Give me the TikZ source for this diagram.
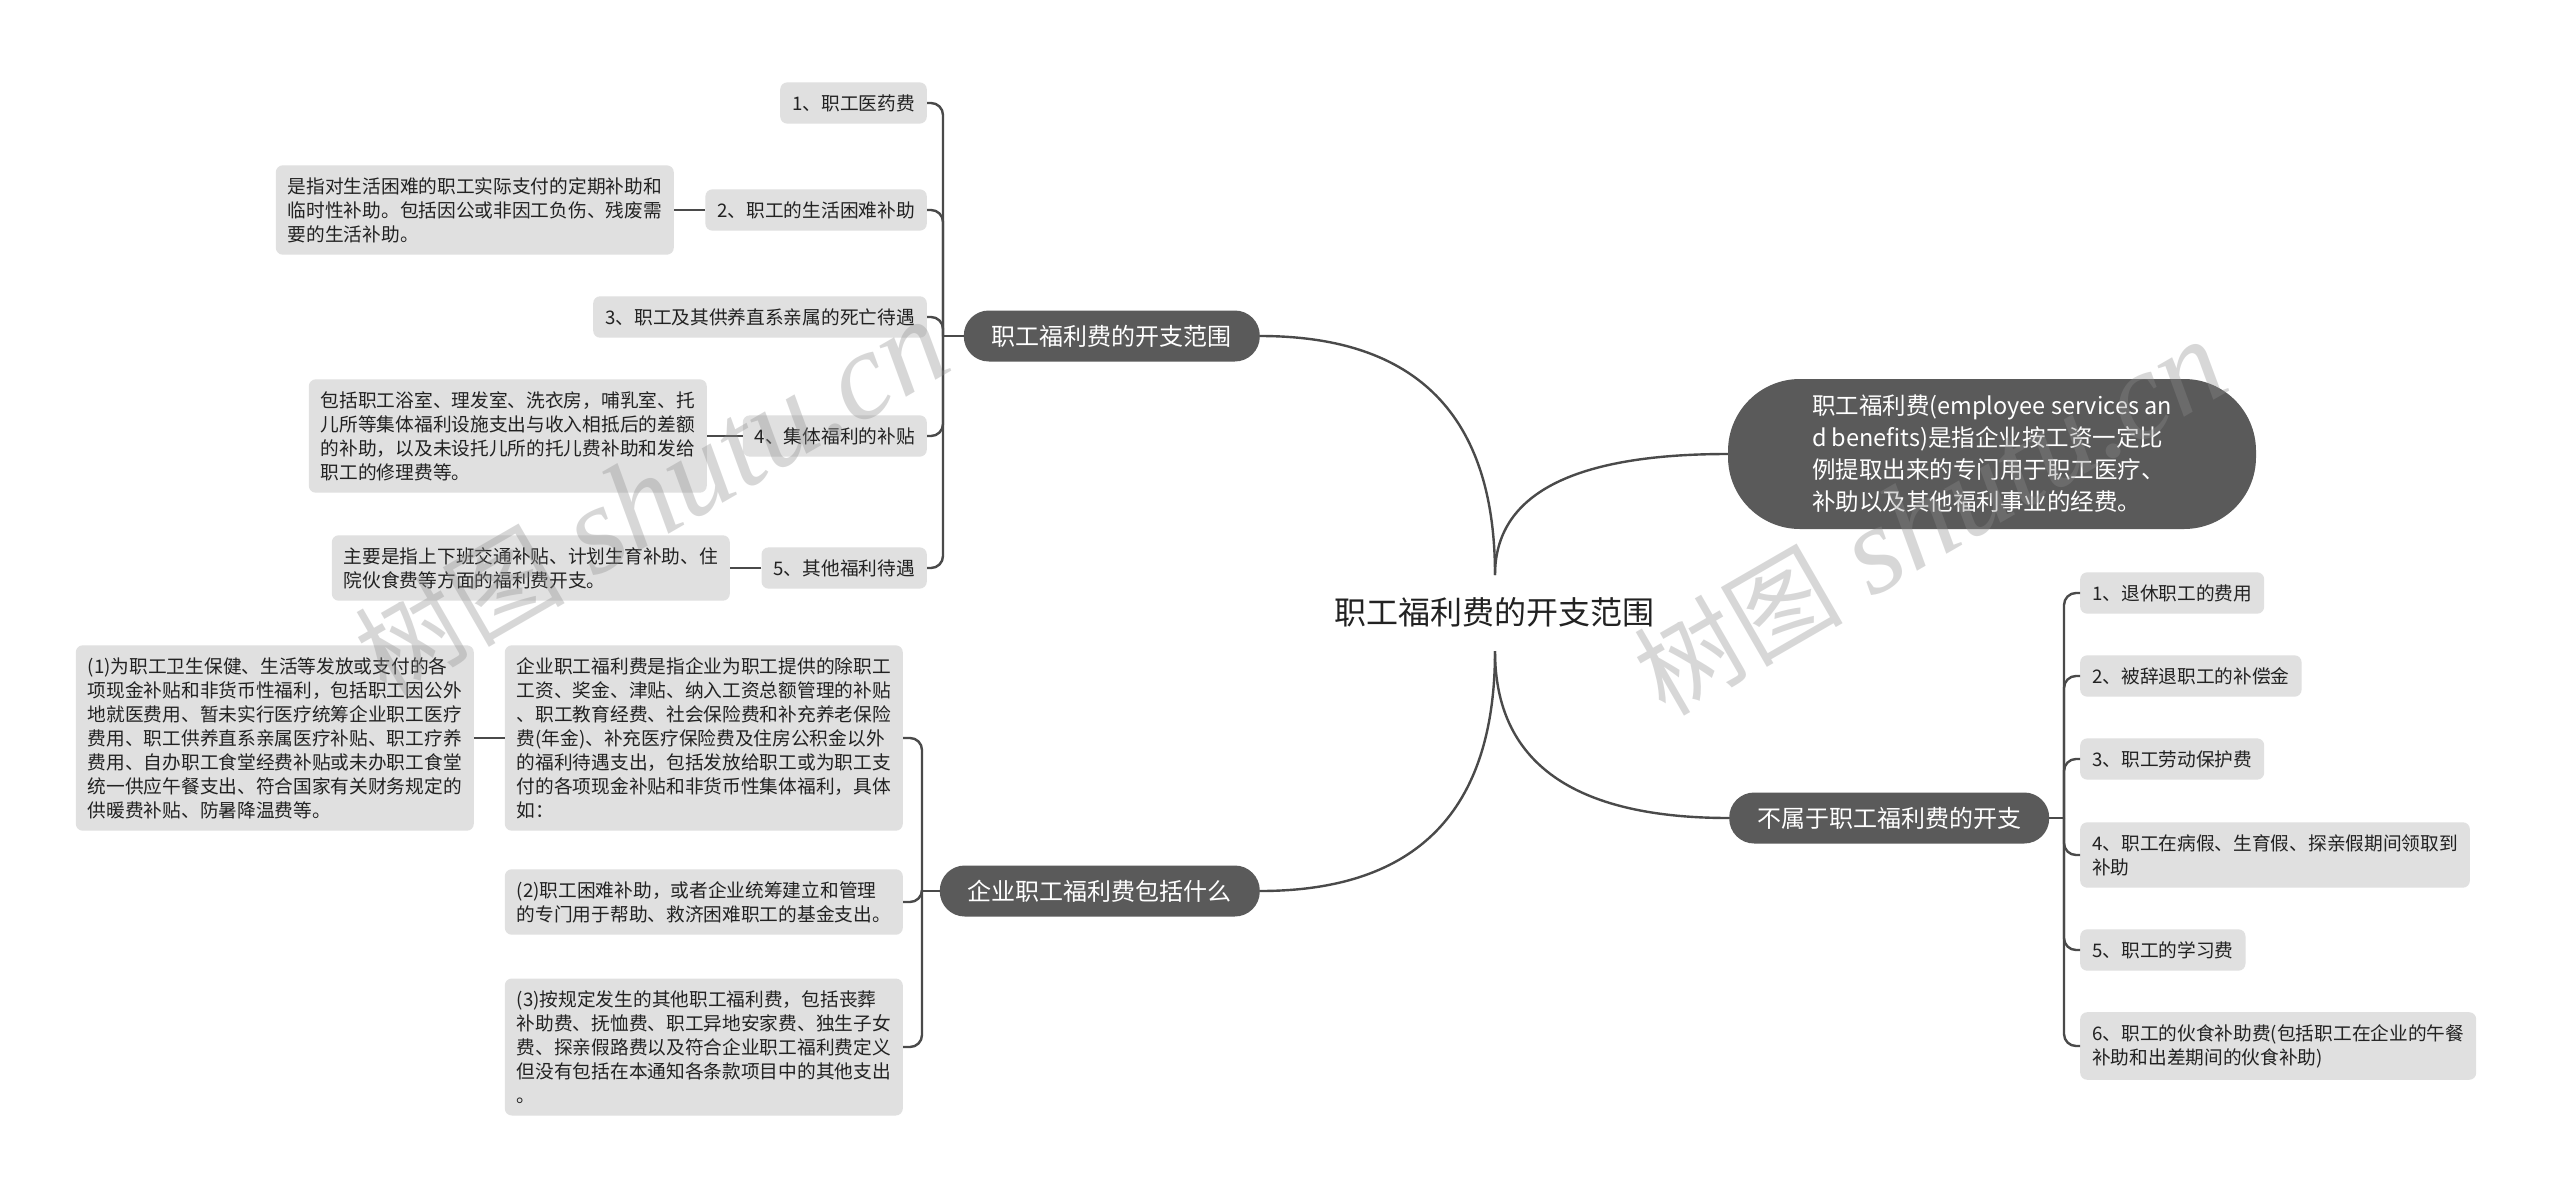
\documentclass[tikz,border=0pt]{standalone}
\usepackage{fontspec}
\setmainfont{Noto Sans CJK SC}
\newfontfamily\wmfont{Liberation Serif}
\usetikzlibrary{calc}
\definecolor{darkfill}{HTML}{5A5A5A}
\definecolor{leaffill}{HTML}{E0E0E0}
\definecolor{linec}{HTML}{4A4A4A}
\definecolor{textc}{HTML}{222222}
\definecolor{wmc}{HTML}{8C8C8C}
\begin{document}
\begin{tikzpicture}[x=1pt,y=-1pt,
  rootstyle/.style={font=\fontsize{32}{38}\selectfont, text=textc, inner sep=0pt},
  mainbox/.style={fill=darkfill, text=white, rounded corners=25pt, minimum height=51pt, inner xsep=28pt, font=\fontsize{24}{30}\selectfont},
  defbox/.style={fill=darkfill, text=white, rounded corners=72pt, minimum height=150pt, minimum width=528pt, align=left, font=\fontsize{23.5}{32}\selectfont},
  leaf/.style={fill=leaffill, text=textc, rounded corners=7pt, inner xsep=12pt, inner ysep=12pt, align=left, font=\fontsize{18.7}{24}\selectfont},
  conn/.style={draw=linec, line width=2.4pt},
  link/.style={draw=linec, line width=2.4pt, rounded corners=12pt},
  wm/.style={rotate=30, text=wmc, text opacity=0.34, inner sep=0pt}
]
\useasboundingbox[fill=white] (0,0) rectangle (2560,1197);

% root
\node[rootstyle] (root) at (1494,612) {职工福利费的开支范围};
\coordinate (rt) at (1495,575);
\coordinate (rb) at (1495,651);

% main branches
\node[mainbox, anchor=east] (b1) at (1260,336) {职工福利费的开支范围};
\node[mainbox, anchor=east] (b2) at (1260,891) {企业职工福利费包括什么};
\node[defbox] (def) at (1992,454) {职工福利费(employee services an\\d benefits)是指企业按工资一定比\\例提取出来的专门用于职工医疗、\\补助以及其他福利事业的经费。};
\node[mainbox, anchor=west] (b4) at (1729,818) {不属于职工福利费的开支};

% root connectors
\draw[conn] (rt) .. controls ($(rt)!0.667!(rt |- b1.east)$) and ($(b1.east)!0.667!(rt |- b1.east)$) .. (b1.east);
\draw[conn] (rt) .. controls ($(rt)!0.667!(rt |- def.west)$) and ($(def.west)!0.667!(rt |- def.west)$) .. (def.west);
\draw[conn] (rb) .. controls ($(rb)!0.667!(rb |- b2.east)$) and ($(b2.east)!0.667!(rb |- b2.east)$) .. (b2.east);
\draw[conn] (rb) .. controls ($(rb)!0.667!(rb |- b4.west)$) and ($(b4.west)!0.667!(rb |- b4.west)$) .. (b4.west);

% branch 1 children
\node[leaf, anchor=east] (l1) at (927,103) {1、职工医药费};
\node[leaf, anchor=east] (l2) at (927,210) {2、职工的生活困难补助};
\node[leaf, anchor=east] (l3) at (927,317) {3、职工及其供养直系亲属的死亡待遇};
\node[leaf, anchor=east] (l4) at (927,436) {4、集体福利的补贴};
\node[leaf, anchor=east] (l5) at (927,568) {5、其他福利待遇};

\node[leaf, anchor=east] (ga) at (674,210) {是指对生活困难的职工实际支付的定期补助和\\临时性补助。包括因公或非因工负伤、残废需\\要的生活补助。};
\node[leaf, anchor=east] (gb) at (707,436) {包括职工浴室、理发室、洗衣房，哺乳室、托\\儿所等集体福利设施支出与收入相抵后的差额\\的补助，以及未设托儿所的托儿费补助和发给\\职工的修理费等。};
\node[leaf, anchor=east] (gc) at (730,568) {主要是指上下班交通补贴、计划生育补助、住\\院伙食费等方面的福利费开支。};

\coordinate (s1) at (943,336);
\draw[conn] (b1.west) -- (s1);
\foreach \c in {l1,l2,l3,l4,l5} \draw[link] (s1) |- (\c.east);
\draw[conn] (l2.west) -- (ga.east);
\draw[conn] (l4.west) -- (gb.east);
\draw[conn] (l5.west) -- (gc.east);

% branch 2 children
\node[leaf, anchor=east] (d1) at (903,738) {企业职工福利费是指企业为职工提供的除职工\\工资、奖金、津贴、纳入工资总额管理的补贴\\、职工教育经费、社会保险费和补充养老保险\\费(年金)、补充医疗保险费及住房公积金以外\\的福利待遇支出，包括发放给职工或为职工支\\付的各项现金补贴和非货币性集体福利，具体\\如：};
\node[leaf, anchor=east] (d2) at (903,902) {(2)职工困难补助，或者企业统筹建立和管理\\的专门用于帮助、救济困难职工的基金支出。};
\node[leaf, anchor=east] (d3) at (903,1047) {(3)按规定发生的其他职工福利费，包括丧葬\\补助费、抚恤费、职工异地安家费、独生子女\\费、探亲假路费以及符合企业职工福利费定义\\但没有包括在本通知各条款项目中的其他支出\\。};
\node[leaf, anchor=east] (e1) at (474,738) {(1)为职工卫生保健、生活等发放或支付的各\\项现金补贴和非货币性福利，包括职工因公外\\地就医费用、暂未实行医疗统筹企业职工医疗\\费用、职工供养直系亲属医疗补贴、职工疗养\\费用、自办职工食堂经费补贴或未办职工食堂\\统一供应午餐支出、符合国家有关财务规定的\\供暖费补贴、防暑降温费等。};

\coordinate (s2) at (922,891);
\draw[conn] (b2.west) -- (s2);
\foreach \c in {d1,d2,d3} \draw[link] (s2) |- (\c.east);
\draw[conn] (d1.west) -- (e1.east);

% right branch children
\node[leaf, anchor=west] (r1) at (2080,593) {1、退休职工的费用};
\node[leaf, anchor=west] (r2) at (2080,676) {2、被辞退职工的补偿金};
\node[leaf, anchor=west] (r3) at (2080,759) {3、职工劳动保护费};
\node[leaf, anchor=west] (r4) at (2080,855) {4、职工在病假、生育假、探亲假期间领取到\\补助};
\node[leaf, anchor=west] (r5) at (2080,950) {5、职工的学习费};
\node[leaf, anchor=west] (r6) at (2080,1046) {6、职工的伙食补助费(包括职工在企业的午餐\\补助和出差期间的伙食补助)};

\coordinate (s4) at (2064,818);
\draw[conn] (b4.east) -- (s4);
\foreach \c in {r1,r2,r3,r4,r5,r6} \draw[link] (s4) |- (\c.west);

% watermarks
\node[wm] (wm1) at (652,498) {\fontsize{105}{105}\selectfont 树图\hspace{28pt}{\wmfont\itshape\fontsize{125}{125}\selectfont shutu.cn}};
\node[wm] (wm2) at (1930,518) {\fontsize{105}{105}\selectfont 树图\hspace{28pt}{\wmfont\itshape\fontsize{125}{125}\selectfont shutu.cn}};
\end{tikzpicture}
\end{document}
